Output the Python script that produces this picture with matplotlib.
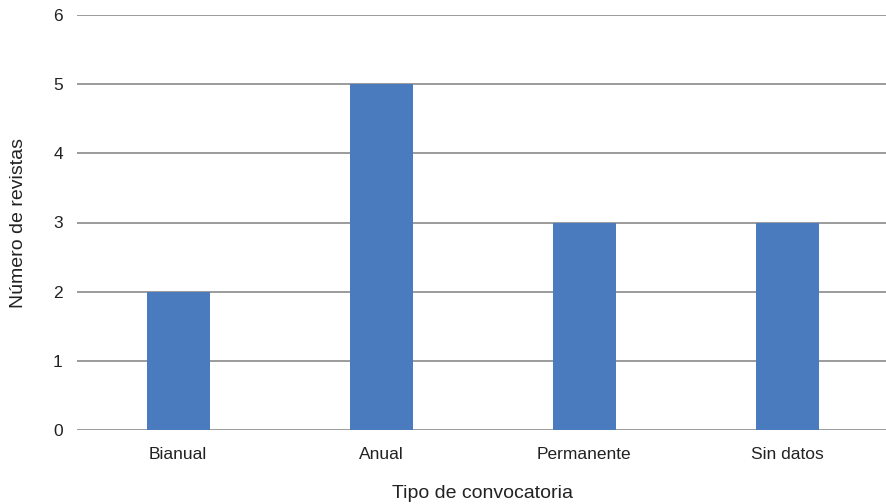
import matplotlib.pyplot as plt

plt.rcParams["font.family"] = ["Liberation Sans", "DejaVu Sans"]

categorias = ["Bianual", "Anual", "Permanente", "Sin datos"]
revistas = [2, 5, 3, 3]
yticks = [0, 1, 2, 3, 4, 5, 6]

fig = plt.figure(figsize=(8.86, 5.04), dpi=100)
ax = fig.add_axes([76.7 / 886, 1 - 430 / 504, 812 / 886, 415 / 504])

x = range(len(categorias))
ax.bar(x, revistas, width=0.312, color="#4a7bbf", zorder=3)

ax.set_xlim(-0.5, 3.5)
ax.set_ylim(0, 6)
ax.set_yticks(yticks)
ax.set_xticks(list(x))
ax.set_xticklabels(categorias)
ax.grid(axis="y", color="#8a8a8a", linewidth=1.2, zorder=0)
ax.tick_params(axis="both", length=0, labelsize=12.5, colors="#222222")
ax.tick_params(axis="y", pad=10)
ax.tick_params(axis="x", pad=12)
for s in ax.spines.values():
    s.set_visible(False)

ax.set_xlabel("Tipo de convocatoria", fontsize=14, color="#222222", labelpad=17)
ax.set_ylabel("Número de revistas", fontsize=14, color="#222222", labelpad=18.5)

fig.savefig("out.png", dpi=100)
